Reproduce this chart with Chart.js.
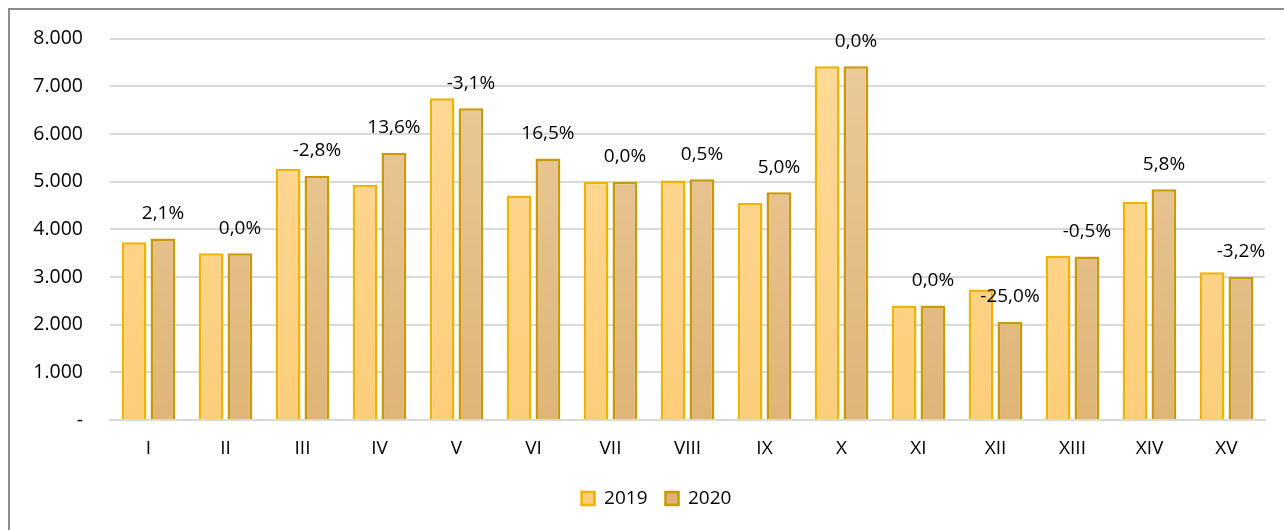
<!DOCTYPE html>
<html>
<head>
<meta charset="utf-8">
<title>2019 / 2020</title>
<script src="https://cdn.jsdelivr.net/npm/chart.js@4.4.1/dist/chart.umd.min.js"></script>
<style>
  html, body { margin: 0; padding: 0; background: #fff; }
  #wrap { position: relative; width: 1284px; height: 530px; overflow: hidden; }
  #frame { position: absolute; left: 8px; top: 8px; width: 1400px; height: 600px;
           border-left: 2px solid #8c8c8c; border-top: 2px solid #8c8c8c; box-sizing: border-box; }
  #chart { position: absolute; left: 0; top: 0; }
</style>
</head>
<body>
<div id="wrap">
  <div id="frame"></div>
  <canvas id="chart" width="1284" height="530"></canvas>
</div>
<script>
// categories and values
const categories = ["I", "II", "III", "IV", "V", "VI", "VII", "VIII", "IX", "X", "XI", "XII", "XIII", "XIV", "XV"];
const values2019 = [3730, 3500, 5270, 4935, 6750, 4710, 5000, 5025, 4555, 7420, 2400, 2740, 3445, 4575, 3100];
const values2020 = [3808, 3500, 5122, 5600, 6542, 5487, 5000, 5050, 4780, 7420, 2400, 2055, 3428, 4840, 3000];
const changeLabels = ["2,1%", "0,0%", "-2,8%", "13,6%", "-3,1%", "16,5%", "0,0%", "0,5%", "5,0%", "0,0%", "0,0%", "-25,0%", "-0,5%", "5,8%", "-3,2%"];
const yTicks = [0, 1000, 2000, 3000, 4000, 5000, 6000, 7000, 8000];

const FONT = "'Open Sans', 'Noto Sans', sans-serif";

function fmtThousands(v) {
  if (v === 0) return "-";
  return String(v).replace(/\B(?=(\d{3})+(?!\d))/g, ".");
}

function barGradient(top, bottom) {
  return (ctx) => {
    const area = ctx.chart.chartArea;
    if (!area) return bottom;
    const g = ctx.chart.ctx.createLinearGradient(0, area.top, 0, area.bottom);
    g.addColorStop(0, top);
    g.addColorStop(1, bottom);
    return g;
  };
}

// percent change written above the 2020 bars
const changeLabelPlugin = {
  id: "changeLabels",
  afterDatasetsDraw(chart) {
    const meta = chart.getDatasetMeta(1);
    const c = chart.ctx;
    c.save();
    c.font = "19px " + FONT;
    c.fillStyle = "#000";
    c.textAlign = "center";
    c.textBaseline = "middle";
    meta.data.forEach((bar, i) => {
      c.fillText(changeLabels[i], bar.x, bar.y - 25);
    });
    c.restore();
  }
};

// the legend sits a little right of the canvas centre in the original
const legendShift = {
  id: "legendShift",
  afterLayout(chart) {
    if (!chart.legend) return;
    chart.legend.left += 24;
    chart.legend.right += 24;
  }
};

new Chart(document.getElementById("chart"), {
  type: "bar",
  data: {
    labels: categories,
    datasets: [
      {
        label: "2019",
        data: values2019,
        backgroundColor: barGradient("#FFDA9A", "#FCCE7A"),
        borderColor: "#F0B300",
        borderWidth: 2.5,
        borderSkipped: "bottom"
      },
      {
        label: "2020",
        data: values2020,
        backgroundColor: barGradient("#EBCB9D", "#DFB577"),
        borderColor: "#C89A08",
        borderWidth: 2.5,
        borderSkipped: "bottom"
      }
    ]
  },
  options: {
    responsive: false,
    animation: false,
    categoryPercentage: 0.75,
    barPercentage: 0.86,
    layout: { padding: { top: 38, right: 19, left: 0, bottom: 12 } },
    scales: {
      x: {
        grid: { display: false, drawTicks: false },
        border: { display: true, color: "#d9d9d9", width: 2 },
        ticks: { color: "#000", font: { family: FONT, size: 19 }, padding: 17 },
        afterFit(scale) { scale.height = 51; }
      },
      y: {
        min: 0,
        max: 8000,
        afterBuildTicks(scale) { scale.ticks = yTicks.map(v => ({ value: v })); },
        grid: { color: "#d9d9d9", lineWidth: 2, drawTicks: false },
        border: { display: false },
        ticks: {
          color: "#000",
          font: { family: FONT, size: 19.5 },
          padding: 27,
          callback: (v) => fmtThousands(v)
        },
        afterFit(scale) { scale.width = 110; }
      }
    },
    plugins: {
      legend: {
        position: "bottom",
        labels: {
          color: "#000",
          font: { family: FONT, size: 19 },
          boxWidth: 13,
          boxHeight: 13,
          padding: 18
        }
      },
      tooltip: { enabled: false }
    }
  },
  plugins: [changeLabelPlugin, legendShift]
});
</script>
</body>
</html>
